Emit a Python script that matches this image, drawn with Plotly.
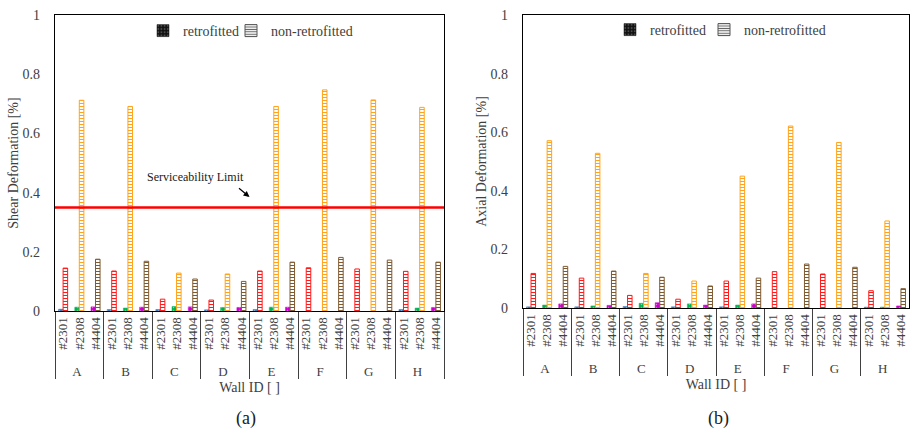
import plotly.graph_objects as go

walls = ["A", "B", "C", "D", "E", "F", "G", "H"]
specimens = ["#2301", "#2308", "#4404"]

# Shear deformation [%]
shear_ret_2301 = [0.006, 0.005, 0.005, 0.004, 0.005, None, None, 0.005]
shear_ret_2308 = [0.013, 0.010, 0.015, 0.012, 0.013, None, None, 0.010]
shear_ret_4404 = [0.014, 0.013, 0.014, 0.012, 0.013, None, None, 0.012]
shear_non_2301 = [0.145, 0.135, 0.040, 0.037, 0.135, 0.146, 0.142, 0.134]
shear_non_2308 = [0.712, 0.691, 0.128, 0.125, 0.691, 0.747, 0.713, 0.688]
shear_non_4404 = [0.175, 0.168, 0.108, 0.100, 0.165, 0.181, 0.172, 0.165]

# Axial deformation [%]
axial_ret_2301 = [0.004, 0.004, 0.005, 0.004, 0.004, None, None, 0.003]
axial_ret_2308 = [0.010, 0.007, 0.016, 0.014, 0.010, None, None, 0.003]
axial_ret_4404 = [0.014, 0.009, 0.018, 0.010, 0.014, None, None, 0.007]
axial_non_2301 = [0.118, 0.102, 0.043, 0.030, 0.092, 0.124, 0.116, 0.059]
axial_non_2308 = [0.571, 0.528, 0.118, 0.092, 0.450, 0.621, 0.565, 0.297]
axial_non_4404 = [0.142, 0.126, 0.105, 0.075, 0.102, 0.150, 0.139, 0.066]

serviceability_limit = 0.35

ret_colors = {"#2301": "#2e75b6", "#2308": "#00b050", "#4404": "#cc00cc"}
non_colors = {"#2301": "#ff1a1a", "#2308": "#ffa31a", "#4404": "#7f5a30"}

FONT = "Liberation Serif, Times New Roman, serif"
TXT = "#404040"

x_outer = [w for w in walls for s in specimens]
x_inner = [s for w in walls for s in specimens]
c_ret = [ret_colors[s] for w in walls for s in specimens]
c_non = [non_colors[s] for w in walls for s in specimens]


def interleave(a, b, c):
    out = []
    for i in range(len(walls)):
        out += [a[i], b[i], c[i]]
    return out


fig = go.Figure()


def add_panel(xa, ya, ret, non, leg_ret, leg_non):
    fig.add_trace(go.Bar(
        x=[x_outer, x_inner], y=ret, xaxis=xa, yaxis=ya,
        marker=dict(color=c_ret, line=dict(color=c_ret, width=0.5),
                    pattern=dict(shape=".", fillmode="overlay", fgcolor="#ffffff",
                                 size=3, solidity=0.2)),
        offsetgroup="ret" + xa, showlegend=False))
    fig.add_trace(go.Bar(
        x=[x_outer, x_inner], y=non, xaxis=xa, yaxis=ya,
        marker=dict(color=c_non, line=dict(color=c_non, width=1),
                    pattern=dict(shape="-", fillmode="replace", bgcolor="white",
                                 size=3, solidity=0.35)),
        offsetgroup="non" + xa, showlegend=False))
    # legend entries
    fig.add_trace(go.Bar(
        x=[["A"], ["#2301"]], y=[None], xaxis=xa, yaxis=ya, name="retrofitted",
        marker=dict(color="#111111", line=dict(color="#111111", width=0.5),
                    pattern=dict(shape=".", fillmode="overlay", fgcolor="#888888",
                                 size=4, solidity=0.3)),
        offsetgroup="ret" + xa, showlegend=True, legend=leg_ret))
    fig.add_trace(go.Bar(
        x=[["A"], ["#2301"]], y=[None], xaxis=xa, yaxis=ya, name="non-retrofitted",
        marker=dict(color="#555555", line=dict(color="#555555", width=1),
                    pattern=dict(shape="-", fillmode="replace", bgcolor="white",
                                 size=3, solidity=0.4)),
        offsetgroup="non" + xa, showlegend=True, legend=leg_non))


add_panel("x", "y", interleave(shear_ret_2301, shear_ret_2308, shear_ret_4404),
          interleave(shear_non_2301, shear_non_2308, shear_non_4404), "legend", "legend2")
add_panel("x2", "y2", interleave(axial_ret_2301, axial_ret_2308, axial_ret_4404),
          interleave(axial_non_2301, axial_non_2308, axial_non_4404), "legend3", "legend4")

H = 431
W = 914

xaxis_common = dict(
    type="multicategory", showline=True, linecolor="black", linewidth=1.2,
    mirror=True, ticks="", tickangle=-90, showgrid=False, zeroline=False,
    tickfont=dict(family=FONT, size=13, color=TXT),
    showdividers=True, dividercolor="#404040", dividerwidth=1,
    title=dict(text="Wall ID [ ]", font=dict(family=FONT, size=14, color=TXT), standoff=4),
    automargin=False,
)
yaxis_common = dict(
    range=[0, 1], dtick=0.2, tickformat="~g", showline=True, linecolor="black",
    linewidth=1.2, mirror=True, ticks="", showgrid=False, zeroline=False,
    tickfont=dict(family=FONT, size=14, color=TXT), ticklabelstandoff=11,
    automargin=False,
)

legend_common = dict(orientation="h", xanchor="left", yanchor="middle",
                     font=dict(family=FONT, size=14, color=TXT), itemwidth=30,
                     bgcolor="rgba(0,0,0,0)", tracegroupgap=0)

fig.update_layout(
    width=W, height=H, margin=dict(l=0, r=0, t=0, b=0),
    paper_bgcolor="white", plot_bgcolor="white",
    barmode="group", bargap=0.44, bargroupgap=0,
    font=dict(family=FONT, color=TXT),
    xaxis=dict(domain=[55 / W, 444 / W], anchor="y", **xaxis_common),
    yaxis=dict(domain=[1 - 311 / H, 1 - 15 / H], anchor="x",
               title=dict(text="Shear Deformation [%]",
                          font=dict(family=FONT, size=14, color=TXT), standoff=0),
               **yaxis_common),
    xaxis2=dict(domain=[523 / W, 909 / W], anchor="y2", **xaxis_common),
    yaxis2=dict(domain=[1 - 308 / H, 1 - 15 / H], anchor="x2",
                title=dict(text="Axial Deformation [%]",
                           font=dict(family=FONT, size=14, color=TXT), standoff=0),
                **yaxis_common),
    legend=dict(x=143 / W, y=1 - 31 / H, **legend_common),
    legend2=dict(x=231 / W, y=1 - 31 / H, **legend_common),
    legend3=dict(x=610 / W, y=1 - 30 / H, **legend_common),
    legend4=dict(x=704 / W, y=1 - 30 / H, **legend_common),
)

fig.add_shape(type="line", xref="x domain", yref="y", x0=0, x1=1,
              y0=serviceability_limit, y1=serviceability_limit,
              line=dict(color="#ff0000", width=2.5))
fig.add_annotation(xref="x domain", yref="y", x=0.36, y=0.452, xanchor="center",
                   yanchor="middle", text="Serviceability Limit", showarrow=False,
                   font=dict(family=FONT, size=12, color="#202020"))
fig.add_annotation(xref="x domain", yref="y", x=0.50, y=0.385, text="",
                   showarrow=True, ax=-12, ay=-10, arrowhead=2, arrowsize=1,
                   arrowwidth=1.2, arrowcolor="black")

fig.add_annotation(xref="paper", yref="paper", x=246 / W, y=1 - 418 / H, text="(a)",
                   xanchor="center", yanchor="middle",
                   showarrow=False, font=dict(family=FONT, size=18, color="#202020"))
fig.add_annotation(xref="paper", yref="paper", x=718 / W, y=1 - 418 / H, text="(b)",
                   xanchor="center", yanchor="middle",
                   showarrow=False, font=dict(family=FONT, size=18, color="#202020"))

fig.write_html("out.html", config={"displayModeBar": False},
               post_script="document.body.style.margin='0';")
